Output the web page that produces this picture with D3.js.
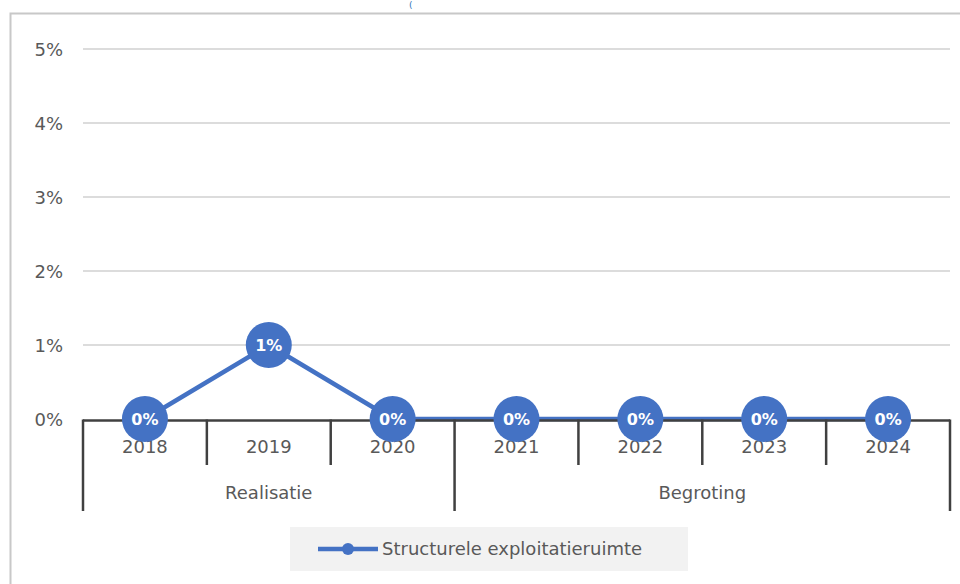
<!DOCTYPE html>
<html>
<head>
<meta charset="utf-8">
<style>
    body { margin: 0; background: #fff; }
    svg { display: block; font-family: 'DejaVu Sans', sans-serif; }
    .tick-label { fill: #595959; font-size: 18px; }
</style>
</head>
<body>
<svg width="960" height="584"></svg>

<script src="https://d3js.org/d3.v7.min.js"></script>
<script>
    // chart values
    let years = ["2018", "2019", "2020", "2021", "2022", "2023", "2024"]
    let groups = ["Realisatie", "Realisatie", "Realisatie", "Begroting", "Begroting", "Begroting", "Begroting"]
    let values = [0, 1, 0, 0, 0, 0, 0]
    let yTicks = [0, 1, 2, 3, 4, 5]
    let seriesName = "Structurele exploitatieruimte"

    let svg = d3.select("svg")
    let plotLeft = 83, plotRight = 950, plotTop = 49, zeroY = 419
    let blue = "#4472C4"
    let axisColor = "#404040"

    // chart frame
    svg.append("path")
        .attr("d", "M10.5,584 V13.5 H960")
        .attr("fill", "none")
        .attr("stroke", "#c8c8c8")
        .attr("stroke-width", 2)

    // small glyph peeking in at the top
    svg.append("text")
        .attr("x", 409).attr("y", 8)
        .attr("fill", "#2e75b6").attr("font-size", 9)
        .text("(")

    let x = d3.scaleBand().domain(years).range([plotLeft, plotRight])
    let y = d3.scaleLinear().domain([0, 5]).range([zeroY, plotTop])

    // gridlines
    svg.append("g")
        .selectAll("line")
        .data(yTicks.filter(d => d > 0))
        .join("line")
        .attr("x1", plotLeft).attr("x2", plotRight)
        .attr("y1", d => y(d)).attr("y2", d => y(d))
        .attr("stroke", "#d0d0d0")
        .attr("stroke-width", 1.5)

    svg.append("g")
        .selectAll("text")
        .data(yTicks)
        .join("text")
        .attr("class", "tick-label")
        .attr("x", 63)
        .attr("y", d => y(d) + 6.5)
        .attr("text-anchor", "end")
        .text(d => d + "%")

    // series line
    let line = d3.line()
        .x((d, i) => x(years[i]) + x.bandwidth() / 2)
        .y(d => y(d))

    svg.append("path")
        .datum(values)
        .attr("d", line)
        .attr("fill", "none")
        .attr("stroke", blue)
        .attr("stroke-width", 4.5)
        .attr("stroke-linejoin", "round")

    // category axis (drawn over the line, like the source)
    let axis = svg.append("g")
        .attr("stroke", axisColor)
        .attr("stroke-width", 2.5)
        .attr("fill", "none")

    axis.append("line")
        .attr("x1", plotLeft).attr("x2", plotRight)
        .attr("y1", zeroY + 1.5).attr("y2", zeroY + 1.5)

    // separators: group boundaries are long, inner ones short
    let bounds = []
    years.forEach((yr, i) => {
        let isGroupEdge = i === 0 || groups[i] !== groups[i - 1]
        bounds.push({ x: x(yr), long: isGroupEdge })
    })
    bounds.push({ x: plotRight, long: true })

    axis.selectAll("line.sep")
        .data(bounds)
        .join("line")
        .attr("class", "sep")
        .attr("x1", d => d.x).attr("x2", d => d.x)
        .attr("y1", zeroY + 0.5)
        .attr("y2", d => d.long ? 511 : 465)

    // year labels
    svg.append("g")
        .selectAll("text")
        .data(years)
        .join("text")
        .attr("class", "tick-label")
        .attr("x", d => x(d) + x.bandwidth() / 2)
        .attr("y", 453)
        .attr("text-anchor", "middle")
        .text(d => d)

    // group labels
    let groupNames = Array.from(new Set(groups))
    svg.append("g")
        .selectAll("text")
        .data(groupNames)
        .join("text")
        .attr("class", "tick-label")
        .attr("x", g => {
            let idx = groups.map((v, i) => v === g ? i : -1).filter(i => i >= 0)
            let a = x(years[idx[0]])
            let b = x(years[idx[idx.length - 1]]) + x.bandwidth()
            return (a + b) / 2
        })
        .attr("y", 499)
        .attr("text-anchor", "middle")
        .text(g => g)

    // markers with labels
    let marks = svg.append("g")
        .selectAll("g")
        .data(values)
        .join("g")
        .attr("transform", (d, i) => `translate(${x(years[i]) + x.bandwidth() / 2},${y(d)})`)

    marks.append("circle")
        .attr("r", 23)
        .attr("fill", blue)

    marks.append("text")
        .attr("y", 6)
        .attr("text-anchor", "middle")
        .attr("fill", "#fff")
        .attr("font-size", 16)
        .attr("font-weight", "bold")
        .text(d => d3.format(".0f")(d) + "%")

    // legend
    let legend = svg.append("g")
    legend.append("rect")
        .attr("x", 290).attr("y", 527)
        .attr("width", 398).attr("height", 44)
        .attr("fill", "#f2f2f2")
    legend.append("line")
        .attr("x1", 318).attr("x2", 378)
        .attr("y1", 549).attr("y2", 549)
        .attr("stroke", blue).attr("stroke-width", 4.5)
    legend.append("circle")
        .attr("cx", 348).attr("cy", 549).attr("r", 6)
        .attr("fill", blue)
    legend.append("text")
        .attr("class", "tick-label")
        .attr("x", 382).attr("y", 555)
        .text(seriesName)
</script>
</body>
</html>
